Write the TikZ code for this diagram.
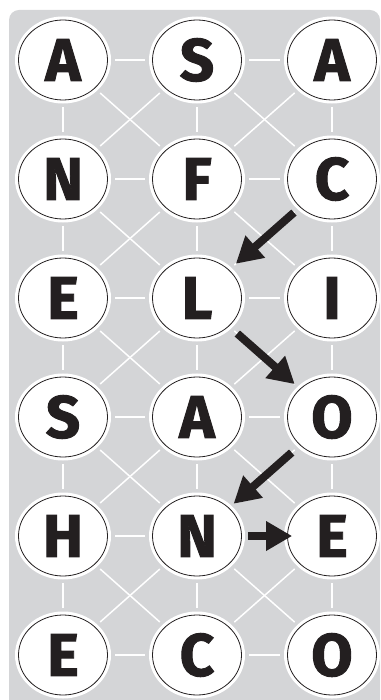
\documentclass[tikz,border=0pt]{standalone}
\usepackage{fontspec}
\setmainfont{Fira Sans}
\newfontfamily\tilefont{Fira Sans}[BoldFeatures={FakeBold=1.6}]
\usetikzlibrary{shapes,arrows,arrows.meta,positioning,calc}

\definecolor{boardgray}{HTML}{D4D5D7}
\definecolor{inkblack}{HTML}{231F20}

\tikzset{
  tile/.style={ellipse, draw=inkblack, line width=0.8pt, fill=white,
    preaction={draw=white, line width=7pt},
    minimum width=89pt, minimum height=80pt, inner sep=0pt,
    font=\tilefont\fontsize{60}{60}\selectfont\bfseries, text=inkblack},
  link/.style={draw=white, line width=1.5pt, shorten <=7pt, shorten >=7pt},
  move/.style={draw=inkblack, line width=8pt,
    -{Triangle[width=28pt,length=26pt]}}
}

\begin{document}
\begin{tikzpicture}[x=1pt,y=-1pt]

\useasboundingbox (0,0) rectangle (380,700);

% -------- Board background --------
\fill[boardgray] {[rounded corners=10pt] (9,700) |- (380,10)} -- (380,700) -- cycle;

% -------- Letter tiles --------
\foreach \r/\y/\a/\b/\c in {1/60/A/S/A, 2/179/N/F/C, 3/298/E/L/I,
                             4/417/S/A/O, 5/536/H/N/E, 6/655/E/C/O}{
  \node[tile] (t\r1) at (63,\y) {\a};
  \node[tile] (t\r2) at (197,\y) {\b};
  \node[tile] (t\r3) at (332,\y) {\c};
}

% -------- Grid links --------
\foreach \r in {1,...,6}{
  \draw[link] (t\r1) -- (t\r2);
  \draw[link] (t\r2) -- (t\r3);
}
\foreach \r in {1,...,5}{
  \pgfmathtruncatemacro\s{\r+1}
  \foreach \c in {1,2,3}{
    \draw[link] (t\r\c) -- (t\s\c);
  }
  \foreach \c/\d in {1/2,2/3}{
    \draw[link] (t\r\c) -- (t\s\d);
    \draw[link] (t\r\d) -- (t\s\c);
  }
}

% -------- Word path: C L O N E --------
\draw[move, shorten <=8pt, shorten >=9pt] (t23) -- (t32);
\draw[move, shorten <=11pt, shorten >=7pt] (t32) -- (t43);
\draw[move, shorten <=11pt, shorten >=6pt] (t43) -- (t52);
\draw[move, shorten <=6pt, shorten >=-5pt] (t52) -- (t53);

\end{tikzpicture}
\end{document}
